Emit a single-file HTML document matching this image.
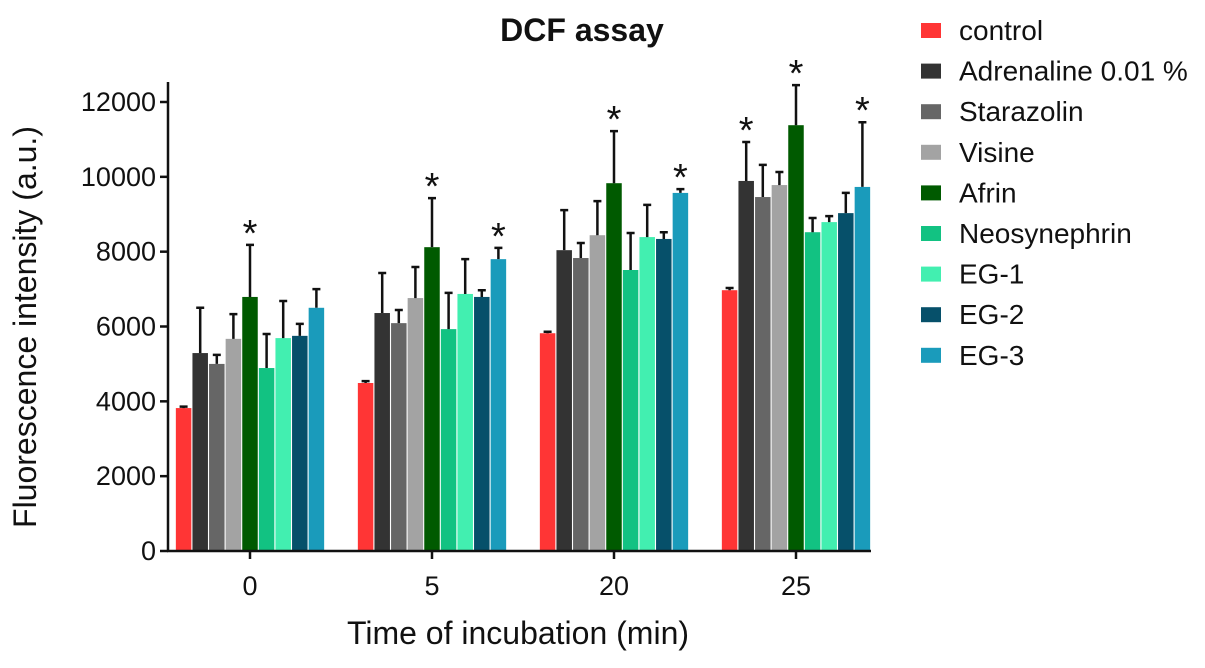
<!DOCTYPE html>
<html><head><meta charset="utf-8"><style>
body{margin:0;background:#fff;width:1205px;height:663px;overflow:hidden}
svg text{font-family:"Liberation Sans",sans-serif;fill:#111}
</style></head><body>
<svg id="chart" width="1205" height="663" viewBox="0 0 1205 663" xmlns="http://www.w3.org/2000/svg">
<text x="582" y="41" text-anchor="middle" font-size="32" font-weight="bold">DCF assay</text>
<text transform="translate(36,327) rotate(-90)" text-anchor="middle" font-size="32">Fluorescence intensity (a.u.)</text>
<text x="518" y="644" text-anchor="middle" font-size="32">Time of incubation (min)</text>
<g id="plot"></g>
<g id="legend"></g>
</svg>
<script>
const categories = ["0","5","20","25"];
const seriesNames = ["control","Adrenaline 0.01 %","Starazolin","Visine","Afrin","Neosynephrin","EG-1","EG-2","EG-3"];
const seriesColors = ["#ff3535","#333333","#666666","#a3a3a3","#005a00","#12c282","#42efb0","#06506a","#1a9bbb"];
const control = [3820,4490,5820,6970];
const adrenaline = [5290,6360,8040,9890];
const starazolin = [5000,6090,7830,9460];
const visine = [5670,6760,8440,9780];
const afrin = [6790,8120,9830,11380];
const neosynephrin = [4890,5930,7510,8520];
const eg1 = [5690,6870,8390,8790];
const eg2 = [5750,6790,8340,9030];
const eg3 = [6500,7800,9570,9730];
const errControl = [40,50,40,60];
const errAdrenaline = [1210,1070,1070,1040];
const errStarazolin = [240,350,400,860];
const errVisine = [660,830,910,350];
const errAfrin = [1390,1310,1390,1070];
const errNeosynephrin = [910,970,990,380];
const errEg1 = [990,930,860,160];
const errEg2 = [320,180,180,540];
const errEg3 = [500,300,100,1730];
const starSeries = [[4],[4,8],[4,8],[1,4,8]];
const yTicks = [0,2000,4000,6000,8000,10000,12000];

const values=[control,adrenaline,starazolin,visine,afrin,neosynephrin,eg1,eg2,eg3];
const errs=[errControl,errAdrenaline,errStarazolin,errVisine,errAfrin,errNeosynephrin,errEg1,errEg2,errEg3];
const NS="http://www.w3.org/2000/svg";
const x0=168, yBase=551, yTop=102;
function y(v){return yBase-(v/12000)*(yBase-yTop);}
function gx(i){return 250+i*182;}
const pitch=16.6, bw=15.5;
function bx(i,s){return gx(i)+(s-4)*pitch-bw/2;}
function el(t,a,p){const e=document.createElementNS(NS,t);for(const k in a)e.setAttribute(k,a[k]);(p||plot).appendChild(e);return e;}
const plot=document.getElementById('plot');
values.forEach((arr,s)=>{arr.forEach((v,i)=>{
  const r=el('rect',{x:bx(i,s),y:y(v),width:bw,height:yBase-y(v),fill:seriesColors[s]});
  
  
  const cx=bx(i,s)+bw/2, te=y(v+errs[s][i]);
  const eg=el('path',{d:`M${cx} ${y(v)}V${te}M${cx-4} ${te}H${cx+4}`,stroke:'#111','stroke-width':2.5,fill:'none'});
  
  
});});
starSeries.forEach((list,i)=>list.forEach(s=>{
  const t=el('text',{x:bx(i,s)+bw/2,y:y(values[s][i]+errs[s][i])+1,'text-anchor':'middle','font-size':38});
  t.textContent='*';
  
  
}));
const ya=el('line',{x1:x0,y1:82,x2:x0,y2:yBase+1,stroke:'#111','stroke-width':2.5});


const xa=el('line',{x1:x0-1,y1:yBase,x2:871,y2:yBase,stroke:'#111','stroke-width':2.5});


yTicks.forEach(v=>{
  el('line',{x1:x0-8,y1:y(v),x2:x0,y2:y(v),stroke:'#111','stroke-width':2.5});
  const t=el('text',{x:x0-12,y:y(v)+9,'text-anchor':'end','font-size':27});
  t.textContent=v;
  
  
});
categories.forEach((c,i)=>{
  el('line',{x1:gx(i),y1:yBase,x2:gx(i),y2:yBase+8,stroke:'#111','stroke-width':2.5});
  const t=el('text',{x:gx(i),y:595,'text-anchor':'middle','font-size':27});
  t.textContent=c;
  
  
});
const lg=document.getElementById('legend');
seriesNames.forEach((n,s)=>{
  const cy=30+s*40.6;
  const g=el('g',{},lg);
  
  
  el('rect',{x:921,y:cy-7,width:20,height:15,fill:seriesColors[s]},g);
  const t=el('text',{x:959,y:cy+10,'font-size':28},g);
  t.textContent=n;
});
</script>
</body></html>
